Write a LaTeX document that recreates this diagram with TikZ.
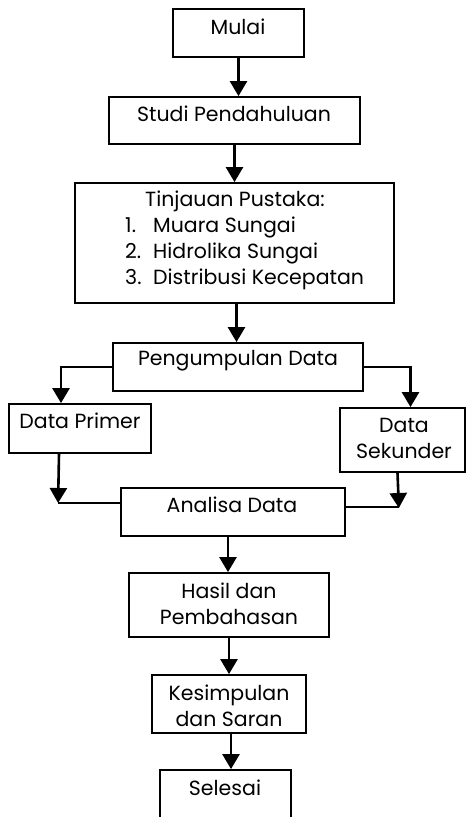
\documentclass[tikz,border=0pt]{standalone}
\usepackage{fontspec}
\setmainfont{Poppins}
\usetikzlibrary{arrows.meta,calc}
\begin{document}
\begin{tikzpicture}[x=1pt,y=-1pt,
  box/.style={draw,line width=1.8pt,rectangle,inner sep=0pt},
  txt/.style={inner sep=0pt,anchor=base,align=center,font=\fontsize{20.5}{26}\selectfont},
  arr/.style={line width=2.6pt,-{Triangle[width=17pt,length=15pt]}},
  ln/.style={line width=2.2pt}]
\useasboundingbox (0,0) rectangle (466,817);
\clip (0,0) rectangle (466,817);
% boxes
\node[box,minimum width=131pt,minimum height=48pt] (mulai) at (238.5,33) {};
\node[box,minimum width=251pt,minimum height=47pt] (studi) at (234.5,120.5) {};
\node[box,minimum width=319pt,minimum height=120pt] (tinj) at (234.5,243) {};
\node[box,minimum width=250pt,minimum height=48pt] (peng) at (238,367) {};
\node[box,minimum width=142pt,minimum height=49pt] (primer) at (80,428.5) {};
\node[box,minimum width=125pt,minimum height=64pt] (sek) at (402.5,440) {};
\node[box,minimum width=224pt,minimum height=48pt] (anal) at (233,512) {};
\node[box,minimum width=200pt,minimum height=64pt] (hasil) at (229,605) {};
\node[box,minimum width=154pt,minimum height=58pt] (kesim) at (229,704) {};
\node[box,minimum width=131pt,minimum height=70pt] (selesai) at (225.5,805) {};
% texts
\node[txt] (tmulai) at (238,34) {Mulai};
\node[txt] (tstudi) at (234,121) {Studi Pendahuluan};
\node[txt] (ttinj) at (235,206) {Tinjauan Pustaka:};
\node[txt,anchor=base west] (tlist) at (125,232) {\begin{tabular}[t]{@{}p{28pt}@{}l@{}}1.&Muara Sungai\\2.&Hidrolika Sungai\\3.&Distribusi Kecepatan\end{tabular}};
\node[txt] (tpeng) at (238,365) {Pengumpulan Data};
\node[txt] (tprimer) at (80,428) {Data Primer};
\node[txt] (tsek) at (404,458) {Data\\Sekunder};
\node[txt] (tanal) at (232,512) {Analisa Data};
\node[txt] (thasil) at (229,624) {Hasil dan\\Pembahasan};
\node[txt] (tkesim) at (229,726) {Kesimpulan\\dan Saran};
\node[txt] (tselesai) at (225,795) {Selesai};
% connectors
\draw[arr] (mulai.south) -- (mulai.south |- studi.north);
\draw[arr] (studi.south) -- (studi.south |- tinj.north);
\draw[arr] ($(tinj.south)+(2,0)$) -- ($(tinj.south |- peng.north)+(2,0)$);
\draw[arr] (peng.west) -| ($(primer.north)+(-19,0)$);
\draw[arr] (peng.east) -| ($(sek.north)+(8,0)$);
\draw[arr] ($(primer.south)+(-21,0)$) -- ($(anal.west)+(-62,-9)$);
\draw[ln] ($(anal.west)+(0,-9)$) -- ($(anal.west)+(-62,-9)$);
\draw[arr] ($(sek.south)+(-5,0)$) -- ($(anal.east)+(53,-4)$);
\draw[ln] ($(anal.east)+(0,-5)$) -- ($(anal.east)+(53,-5)$);
\draw[arr] ($(anal.south)+(-5,0)$) -- ($(anal.south |- hasil.north)+(-5,0)$);
\draw[arr] (hasil.south) -- (hasil.south |- kesim.north);
\draw[arr] ($(kesim.south)+(2,0)$) -- ($(kesim.south |- selesai.north)+(2,0)$);
\end{tikzpicture}
\end{document}
